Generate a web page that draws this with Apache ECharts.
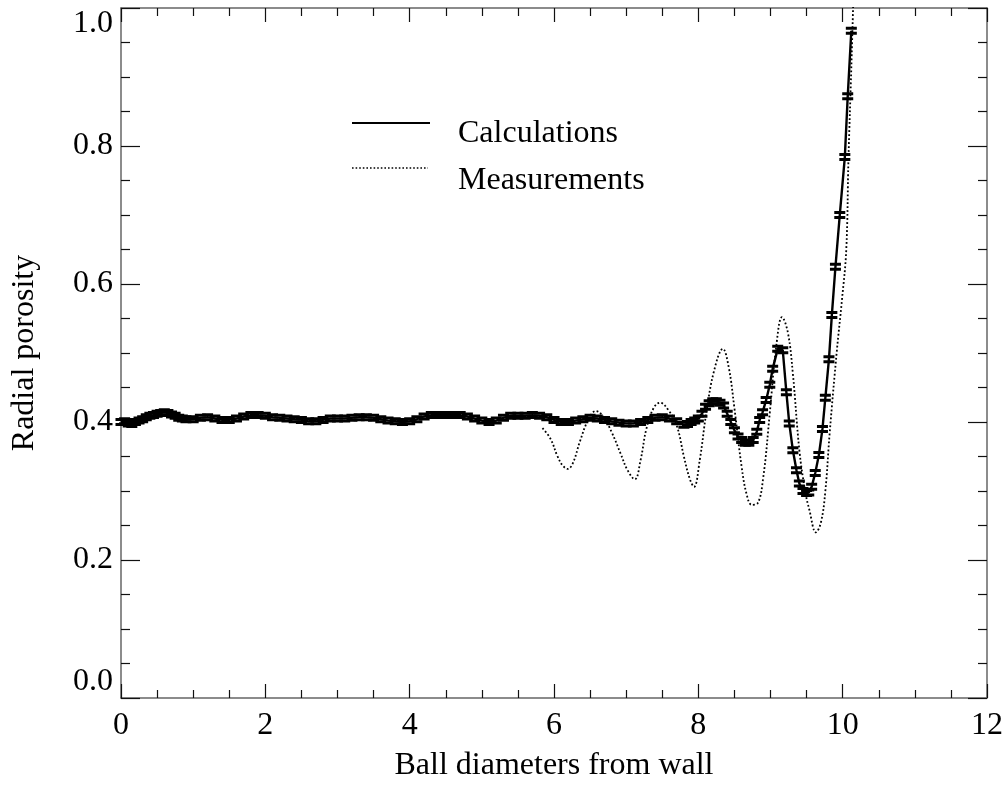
<!DOCTYPE html>
<html>
<head>
<meta charset="utf-8">
<script src="https://cdn.jsdelivr.net/npm/echarts@6/dist/echarts.min.js"></script>
<style>
  html, body { margin: 0; padding: 0; background: #fff; }
  #main { width: 1006px; height: 787px; }
</style>
</head>
<body>
<div id="main"></div>
<script>
// 计算值 (x, porosity)
var calcData = [
  [0.00,0.400],[0.05,0.401],[0.10,0.398],[0.15,0.397],[0.20,0.400],[0.25,0.402],[0.30,0.404],
  [0.35,0.407],[0.40,0.409],[0.45,0.410],[0.50,0.412],[0.55,0.413],[0.60,0.414],[0.65,0.413],
  [0.70,0.411],[0.75,0.409],[0.80,0.406],[0.85,0.405],[0.90,0.404],[1.0,0.404],[1.1,0.406],
  [1.2,0.407],[1.3,0.405],[1.4,0.403],[1.5,0.403],[1.6,0.405],[1.7,0.408],[1.8,0.410],
  [1.9,0.410],[2.0,0.409],[2.1,0.407],[2.2,0.406],[2.3,0.405],[2.4,0.404],[2.5,0.403],
  [2.6,0.401],[2.7,0.401],[2.8,0.403],[2.9,0.405],[3.0,0.405],[3.1,0.405],[3.2,0.406],
  [3.3,0.407],[3.4,0.407],[3.5,0.406],[3.6,0.404],[3.7,0.402],[3.8,0.401],[3.9,0.400],
  [4.0,0.401],[4.1,0.404],[4.2,0.408],[4.3,0.410],[4.4,0.410],[4.5,0.410],[4.6,0.410],
  [4.7,0.410],[4.8,0.408],[4.9,0.405],[5.0,0.402],[5.1,0.400],[5.2,0.402],[5.3,0.406],
  [5.4,0.409],[5.5,0.409],[5.6,0.409],[5.7,0.410],[5.8,0.409],[5.9,0.407],[6.0,0.403],
  [6.1,0.400],[6.2,0.400],[6.3,0.402],[6.4,0.404],[6.5,0.406],[6.6,0.405],[6.7,0.403],
  [6.8,0.401],[6.9,0.399],[7.0,0.398],[7.1,0.398],[7.2,0.400],[7.3,0.403],[7.4,0.406],
  [7.5,0.407],[7.6,0.405],[7.7,0.401],[7.8,0.396],[7.85,0.397],[7.9,0.400],[7.95,0.402],
  [8.00,0.405],[8.05,0.412],[8.10,0.422],[8.15,0.427],[8.20,0.430],[8.25,0.430],[8.30,0.428],
  [8.35,0.424],[8.40,0.412],[8.45,0.400],[8.50,0.388],[8.55,0.379],[8.60,0.374],[8.65,0.370],
  [8.70,0.370],[8.76,0.374],[8.81,0.386],[8.85,0.403],[8.89,0.414],[8.94,0.432],[8.99,0.454],
  [9.03,0.477],[9.10,0.506],[9.17,0.504],[9.22,0.443],[9.26,0.398],[9.31,0.359],[9.36,0.330],
  [9.40,0.311],[9.45,0.300],[9.50,0.297],[9.53,0.298],[9.57,0.306],[9.62,0.326],[9.67,0.352],
  [9.72,0.390],[9.76,0.435],[9.81,0.491],[9.85,0.555],[9.90,0.625],[9.96,0.700],[10.03,0.784],
  [10.07,0.872],[10.12,0.967]
];

// 测量值
var measData = [
  [5.84,0.391],[5.95,0.376],[6.05,0.350],[6.12,0.337],[6.19,0.332],[6.26,0.340],[6.36,0.372],
  [6.47,0.402],[6.58,0.416],[6.68,0.408],[6.80,0.385],[6.92,0.355],[7.02,0.330],[7.12,0.317],
  [7.20,0.345],[7.28,0.390],[7.38,0.420],[7.47,0.428],[7.58,0.418],[7.70,0.395],[7.80,0.350],
  [7.88,0.318],[7.94,0.306],[8.02,0.345],[8.11,0.413],[8.22,0.475],[8.34,0.506],[8.42,0.480],
  [8.50,0.420],[8.60,0.335],[8.67,0.295],[8.74,0.280],[8.82,0.282],[8.90,0.320],[8.99,0.413],
  [9.08,0.510],[9.16,0.552],[9.24,0.530],[9.31,0.470],[9.40,0.359],[9.48,0.300],[9.54,0.272],
  [9.63,0.240],[9.70,0.255],[9.76,0.300],[9.82,0.384],[9.92,0.504],[9.99,0.577],[10.05,0.650],
  [10.08,0.780],[10.12,0.914],[10.15,1.020]
];

var xTicks = {min: 0, max: 12, interval: 2};
var yTicks = {min: 0, max: 1, interval: 0.2};
var seriesNames = ['Calculations', 'Measurements'];

var FONT = '"Liberation Serif", "DejaVu Serif", serif';
var chart = echarts.init(document.getElementById('main'), null, {renderer: 'canvas'});

function axisBase(showLabel, tickLen, minorLen) {
  return {
    axisLine: {show: true, onZero: false, lineStyle: {color: '#666', width: 1.5}},
    axisTick: {show: true, inside: true, length: tickLen, lineStyle: {color: '#111', width: 1.2}},
    minorTick: {show: true, splitNumber: 4, length: minorLen, lineStyle: {color: '#111', width: 1.2}},
    splitLine: {show: false},
    minorSplitLine: {show: false},
    axisLabel: {show: showLabel}
  };
}

var xBottom = Object.assign(axisBase(true, 14, 8), {
  type: 'value', position: 'bottom',
  min: xTicks.min, max: xTicks.max, interval: xTicks.interval,
  name: 'Ball diameters from wall', nameLocation: 'middle', nameGap: 52,
  nameTextStyle: {fontFamily: FONT, fontSize: 32, color: '#000'}
});
xBottom.axisLabel = {show: true, margin: 12, fontFamily: FONT, fontSize: 32, color: '#000'};

var xTop = Object.assign(axisBase(false, 14, 8), {
  type: 'value', position: 'top',
  min: xTicks.min, max: xTicks.max, interval: xTicks.interval
});

var yLeft = Object.assign(axisBase(true, 19, 9), {
  type: 'value', position: 'left',
  min: yTicks.min, max: yTicks.max, interval: yTicks.interval,
  name: 'Radial porosity', nameLocation: 'middle', nameGap: 80,
  nameTextStyle: {fontFamily: FONT, fontSize: 32, color: '#000'}
});
yLeft.axisLabel = {
  show: true, margin: 8, fontFamily: FONT, fontSize: 32, color: '#000',
  verticalAlignMaxLabel: 'top', verticalAlignMinLabel: 'bottom',
  formatter: function (v) { return v.toFixed(1); }
};

var yRight = Object.assign(axisBase(false, 19, 9), {
  type: 'value', position: 'right',
  min: yTicks.min, max: yTicks.max, interval: yTicks.interval
});

// 图例 (drawn by hand, like the original)
var legendGraphic = [
  {type: 'line', shape: {x1: 352, y1: 123, x2: 430, y2: 123},
   style: {stroke: '#000', lineWidth: 2}},
  {type: 'line', shape: {x1: 352, y1: 168, x2: 428, y2: 168},
   style: {stroke: '#000', lineWidth: 1.6, lineDash: [1.6, 2]}},
  {type: 'text', x: 458, y: 134,
   style: {text: seriesNames[0], font: '32px ' + FONT, fill: '#000', verticalAlign: 'middle'}},
  {type: 'text', x: 458, y: 181,
   style: {text: seriesNames[1], font: '32px ' + FONT, fill: '#000', verticalAlign: 'middle'}}
];

var option = {
  backgroundColor: '#fff',
  animation: false,
  grid: {left: 121, right: 19, top: 8, bottom: 89, containLabel: false},
  graphic: legendGraphic,
  xAxis: [xBottom, xTop],
  yAxis: [yLeft, yRight],
  series: [
    {
      name: seriesNames[1],
      type: 'line',
      xAxisIndex: 0, yAxisIndex: 0,
      data: measData,
      smooth: 0.4,
      showSymbol: false,
      symbol: 'none',
      lineStyle: {color: '#000', width: 1.8, type: [1.8, 2.2]},
      z: 2
    },
    {
      name: seriesNames[0],
      type: 'line',
      xAxisIndex: 0, yAxisIndex: 0,
      data: calcData,
      symbol: 'path://M0,0H10V3H0Z M0,5H10V8H0Z',
      symbolSize: [11, 8],
      showAllSymbol: true,
      lineStyle: {color: '#000', width: 2.4},
      itemStyle: {color: '#000'},
      z: 3
    }
  ]
};

chart.setOption(option);
</script>
</body>
</html>
